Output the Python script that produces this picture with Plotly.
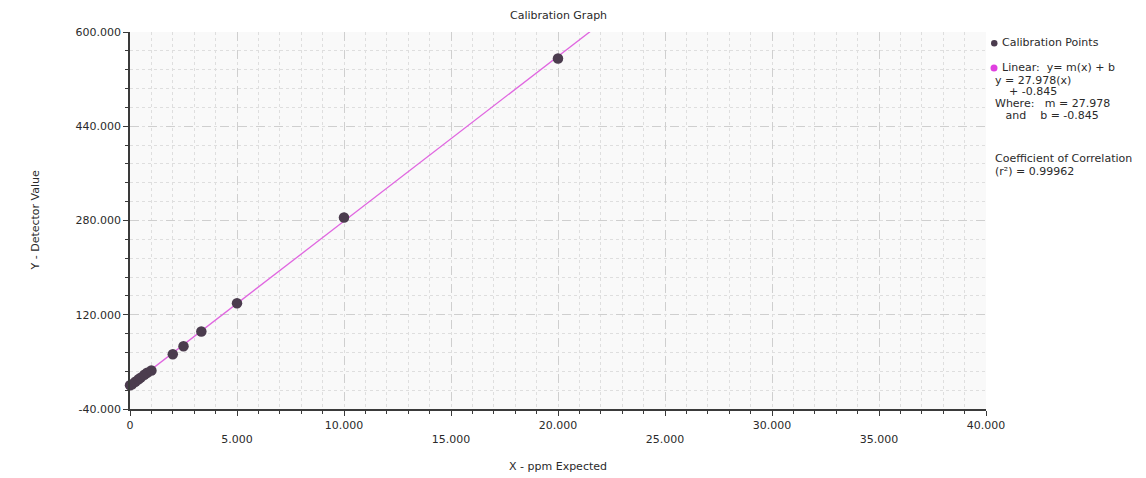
import plotly.graph_objects as go

# ---- data ----
x_points = [0, 0.1, 0.25, 0.4, 0.5, 0.67, 0.8, 1.0, 2.0, 2.5, 3.333, 5.0, 10.0, 20.0]
y_points = [0.2, 2.1, 6.4, 10.5, 13.2, 18.0, 21.6, 25.5, 53.0, 66.5, 91.5, 139.5, 285.0, 555.0]

slope = 27.978
intercept = -0.845
r_squared = 0.99962
fit_x = [0.0, 40.0]
fit_y = [slope * v + intercept for v in fit_x]

x_tick_vals = [0, 5, 10, 15, 20, 25, 30, 35, 40]
x_tick_text = ["0", "<br>5.000", "10.000", "<br>15.000", "20.000", "<br>25.000", "30.000", "<br>35.000", "40.000"]
y_tick_vals = [-40, 120, 280, 440, 600]
y_tick_text = ["-40.000", "120.000", "280.000", "440.000", "600.000"]

title_text = "Calibration Graph"
x_title = "X - ppm Expected"
y_title = "Y - Detector Value"
series_name = "Calibration Points"
legend_lines = [
    "Linear:  y= m(x) + b",
    f"y = {slope:.3f}(x)",
    f"    + {intercept:.3f}",
    f"Where:   m = {slope:.3f}",
    f"   and    b = {intercept:.3f}",
]
corr_lines = ["Coefficient of Correlation", f"(r²) = {r_squared:.5f}"]

FONT = "DejaVu Sans, Verdana, sans-serif"
TXT = "#2a2a2a"

fig = go.Figure()
fig.add_trace(go.Scatter(x=fit_x, y=fit_y, mode="lines",
                         line=dict(color="#e066e0", width=1.3),
                         showlegend=False, cliponaxis=True))
fig.add_trace(go.Scatter(x=x_points, y=y_points, mode="markers",
                         marker=dict(color="#4b3c4e", size=10.5, line=dict(width=0)),
                         showlegend=False, cliponaxis=False, name=series_name))

OFF = 8  # page offset of the figure div
W, H = 1146 - OFF, 478 - OFF
L, T = 130 - OFF, 32 - OFF
R = W - (986 - OFF)
B = H - (409 - OFF)
pw, ph = W - L - R, H - T - B

def px(xp):
    return (xp - OFF - L) / pw

def py(yp):
    return 1 - (yp - OFF - T) / ph

FS = 11
ann = []
ann.append(dict(text=title_text, x=0.5, y=py(16), xref="paper", yref="paper",
                xanchor="center", yanchor="middle", showarrow=False,
                font=dict(family=FONT, size=FS, color=TXT)))
ann.append(dict(text=x_title, x=0.5, y=py(466), xref="paper", yref="paper",
                xanchor="center", yanchor="middle", showarrow=False,
                font=dict(family=FONT, size=FS, color=TXT)))
ann.append(dict(text=y_title, x=px(35), y=0.5, xref="paper", yref="paper",
                xanchor="center", yanchor="middle", showarrow=False, textangle=-90,
                font=dict(family=FONT, size=FS, color=TXT)))

ann.append(dict(text=series_name, x=px(1000), y=py(43), xref="paper", yref="paper",
                xanchor="left", yanchor="middle", showarrow=False,
                font=dict(family=FONT, size=FS, color=TXT)))
ann.append(dict(text=legend_lines[0].replace(" ", "&nbsp;"), x=px(1000), y=py(68), xref="paper", yref="paper",
                xanchor="left", yanchor="middle", showarrow=False,
                font=dict(family=FONT, size=FS, color=TXT)))
for i, line in enumerate(legend_lines[1:]):
    ann.append(dict(text=line.replace(" ", "&nbsp;"), x=px(993), y=py(80 + 11.8 * i),
                    xref="paper", yref="paper", xanchor="left", yanchor="middle",
                    showarrow=False, font=dict(family=FONT, size=FS, color=TXT)))
for i, line in enumerate(corr_lines):
    ann.append(dict(text=line, x=px(993), y=py(158 + 13 * i), xref="paper", yref="paper",
                    xanchor="left", yanchor="middle", showarrow=False,
                    font=dict(family=FONT, size=FS, color=TXT)))

shapes = [
    dict(type="circle", xref="paper", yref="paper",
         x0=px(991), x1=px(997.5), y0=py(46.5), y1=py(40),
         fillcolor="#4b3c4e", line=dict(width=0)),
    dict(type="circle", xref="paper", yref="paper",
         x0=px(990.5), x1=px(997.5), y0=py(71.5), y1=py(64.5),
         fillcolor="#e040e0", line=dict(width=0)),
]

axis_common = dict(
    showline=True, linecolor="#3a3a3a", linewidth=1.5,
    ticks="outside", ticklen=5, tickcolor="#3a3a3a", tickwidth=1,
    showgrid=True, gridcolor="#cfcfcf", griddash="dash", gridwidth=1,
    zeroline=False, mirror=False,
    tickfont=dict(family=FONT, size=FS, color=TXT),
)

fig.update_xaxes(range=[0, 40], tickmode="array", tickvals=x_tick_vals, ticktext=x_tick_text,
                 minor=dict(dtick=1, ticks="outside", ticklen=3, tickcolor="#3a3a3a",
                            showgrid=True, gridcolor="#dedede", griddash="dot"),
                 **axis_common)
fig.update_yaxes(range=[-40, 600], tickmode="array", tickvals=y_tick_vals, ticktext=y_tick_text,
                 minor=dict(dtick=32, tick0=-40, ticks="outside", ticklen=3, tickcolor="#3a3a3a",
                            showgrid=True, gridcolor="#dedede", griddash="dot"),
                 **axis_common)

fig.update_layout(
    width=W, height=H,
    margin=dict(l=L, r=R, t=T, b=B),
    paper_bgcolor="white", plot_bgcolor="#f9f9f9",
    annotations=ann, shapes=shapes, showlegend=False,
    font=dict(family=FONT, size=FS, color=TXT),
)

fig.write_html("out.html")
